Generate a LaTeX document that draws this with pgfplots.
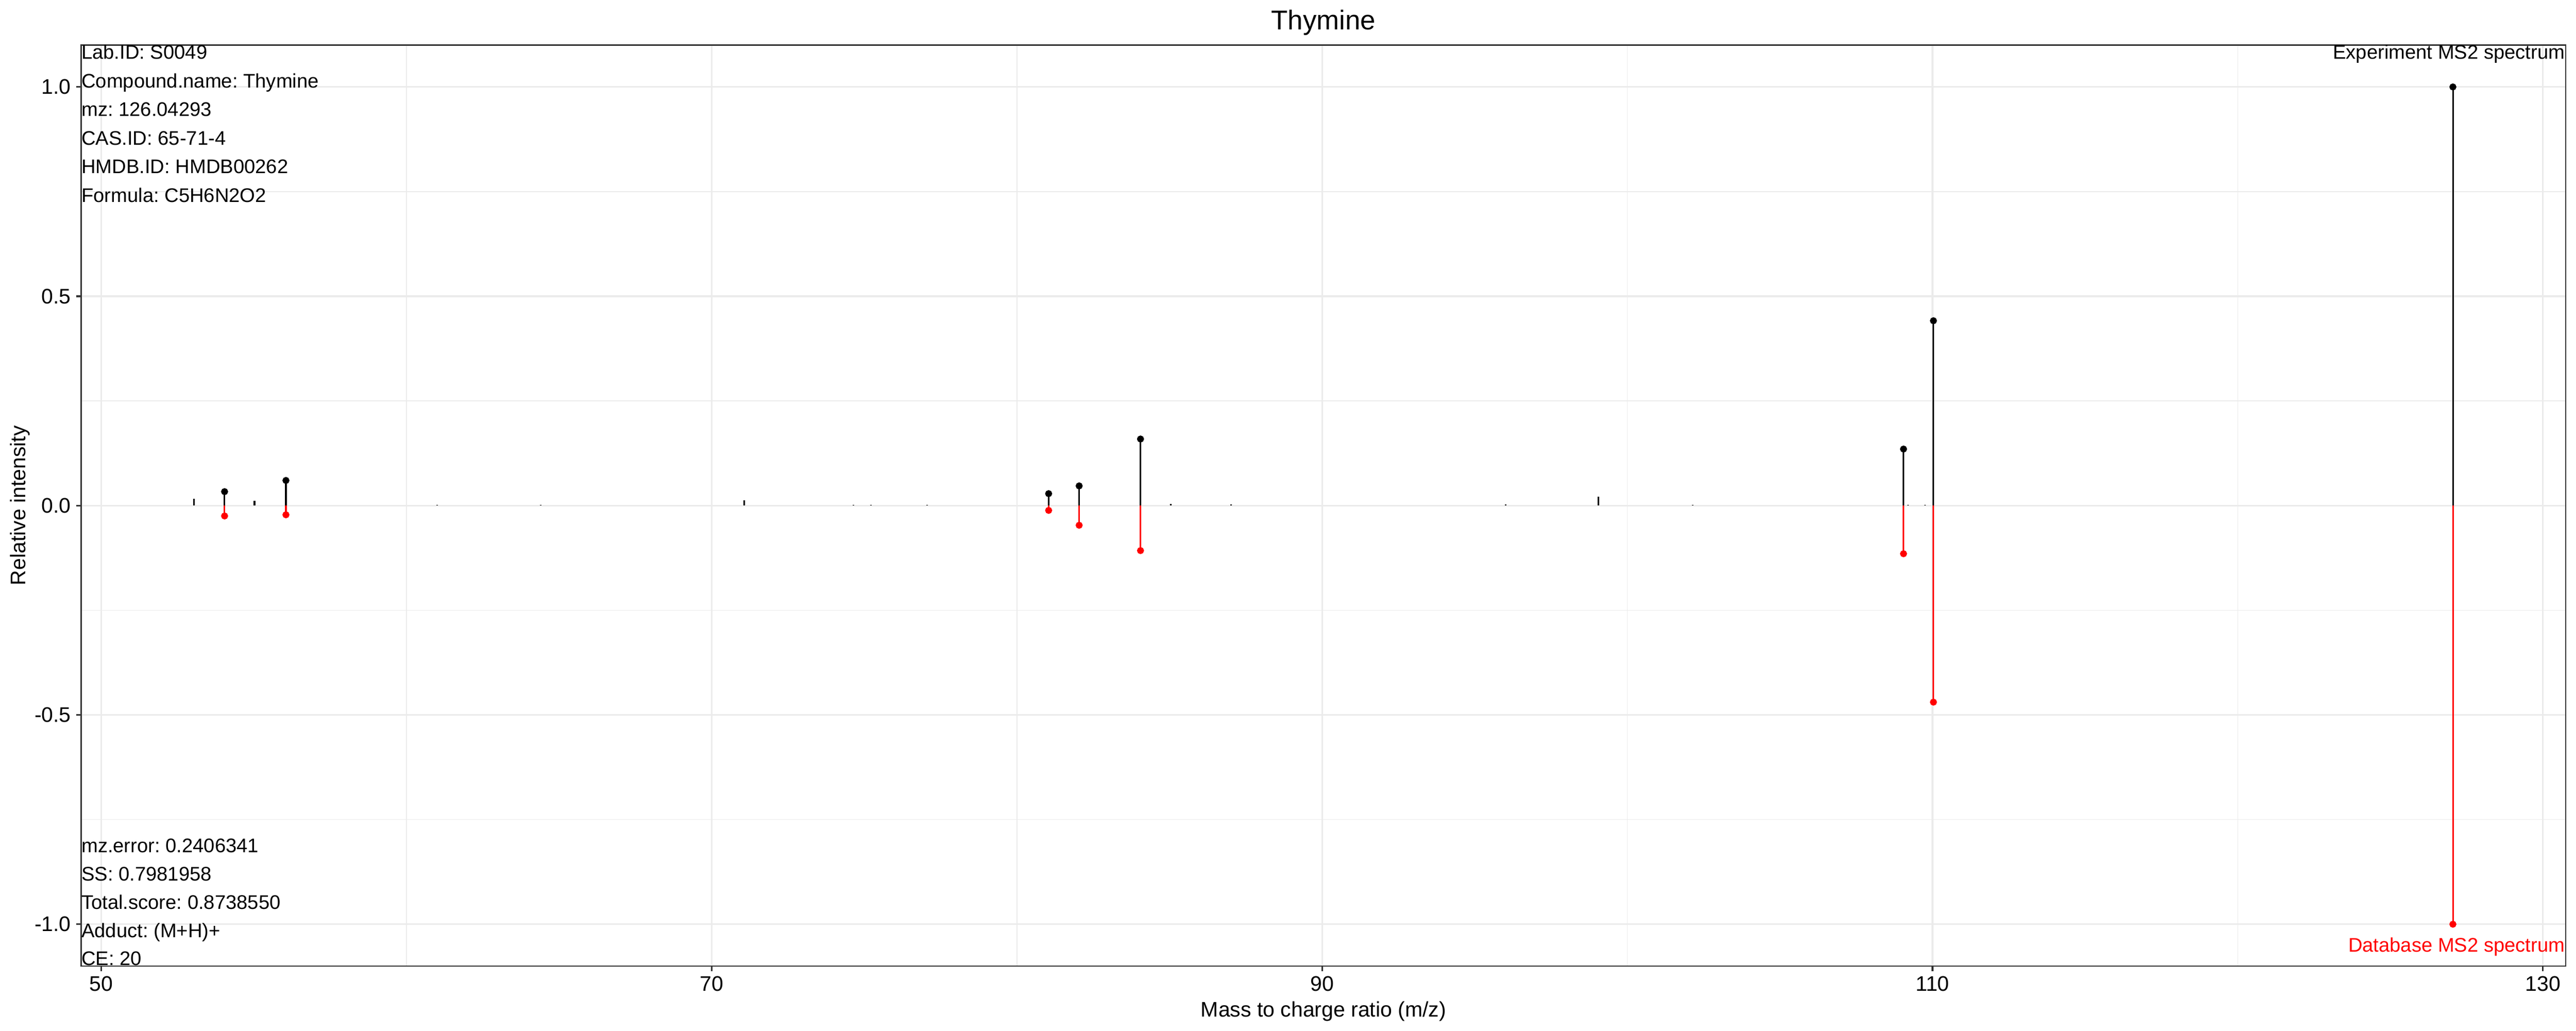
\documentclass[border=0pt]{standalone}
\usepackage{pgfplots}
\pgfplotsset{compat=1.18}
\usepackage{fontspec}
\setmainfont{Liberation Sans}
\frenchspacing
\usetikzlibrary{backgrounds}
\definecolor{gridgray}{HTML}{EBEBEB}
\definecolor{framegray}{HTML}{333333}
\definecolor{dbred}{HTML}{FF0000}
\begin{document}
\begin{tikzpicture}
\begin{axis}[
  scale only axis,
  width=1388.9pt, height=514.8pt,
  xmin=49.34, xmax=130.75,
  ymin=-1.1, ymax=1.1,
  xtick={50,70,90,110,130},
  xticklabels={50,70,90,110,130},
  minor xtick={60,80,100,120},
  ytick={-1,-0.5,0,0.5,1},
  yticklabels={-1.0,-0.5,0.0,0.5,1.0},
  minor ytick={-0.75,-0.25,0.25,0.75},
  grid=both,
  major grid style={gridgray, line width=0.9pt},
  minor grid style={gridgray, line width=0.45pt},
  xtick pos=bottom, ytick pos=left,
  tick align=outside,
  major tick length=2.75pt,
  minor tick length=0pt,
  every tick/.style={framegray, line width=0.9pt},
  axis line style={framegray, line width=0.7pt},
  /pgf/number format/assume math mode=true,
  ticklabel style={font=\fontsize{11.8}{14}\selectfont, inner sep=0pt},
  xticklabel style={anchor=north, yshift=-2.75pt},
  yticklabel style={anchor=east, xshift=-2.77pt},
  xlabel={Mass to charge ratio (m/z)},
  ylabel={Relative intensity},
  xlabel style={at={(axis description cs:0.5,-0.05487)}, anchor=base, inner sep=0pt, font=\fontsize{11.8}{14}\selectfont},
  ylabel style={at={(axis description cs:-0.02229,0.5)}, anchor=base, inner sep=0pt, font=\fontsize{11.8}{14}\selectfont},
  title={Thymine},
  every axis title/.style={at={(axis description cs:0.5,1.01665)}, anchor=base, inner sep=0pt, font=\fontsize{15.2}{18}\selectfont},
]
% unmatched experimental peaks
\addplot[ycomb, black, line width=0.9pt, mark=none] coordinates {
  (53.04,0.016) (55.02,0.0108) (61.01,0.002) (64.40,0.002)
  (71.06,0.0128) (74.64,0.002) (75.22,0.002) (77.06,0.002)
  (85.04,0.0035) (87.02,0.003) (96.01,0.0025) (99.05,0.021)
  (102.14,0.0015) (109.20,0.002) (109.76,0.002)
};
% database spectrum (matched, mirrored)
\addplot[ycomb, dbred, line width=0.9pt, mark=*, mark size=1.5pt, mark options={fill=dbred, draw=dbred, line width=0.9pt}] coordinates {
  (54.04,-0.0248) (56.05,-0.022) (81.04,-0.0115) (82.04,-0.047)
  (84.05,-0.1075) (109.05,-0.115) (110.03,-0.4695) (127.05,-1.0)
};
% experiment spectrum (matched)
\addplot[ycomb, black, line width=0.9pt, mark=*, mark size=1.5pt, mark options={fill=black, draw=black, line width=0.9pt}] coordinates {
  (54.04,0.0333) (56.05,0.060) (81.04,0.0285) (82.04,0.047)
  (84.05,0.159) (109.05,0.135) (110.03,0.4415) (127.05,1.0)
};
\coordinate (SW) at (rel axis cs:0,0);
\begin{scope}[every node/.style={inner sep=0pt, font=\fontsize{11}{13}\selectfont}]
\node[anchor=base west] at (axis cs:49.34,1.0667) {Lab.ID: S0049};
\node[anchor=base west] at (axis cs:49.34,0.9983) {Compound.name: Thymine};
\node[anchor=base west] at (axis cs:49.34,0.9300) {mz: 126.04293};
\node[anchor=base west] at (axis cs:49.34,0.8615) {CAS.ID: 65-71-4};
\node[anchor=base west] at (axis cs:49.34,0.7930) {HMDB.ID: HMDB00262};
\node[anchor=base west] at (axis cs:49.34,0.7248) {Formula: C5H6N2O2};
\node[anchor=base west] at (axis cs:49.34,-0.8290) {mz.error: 0.2406341};
\node[anchor=base west] at (axis cs:49.34,-0.8963) {SS: 0.7981958};
\node[anchor=base west] at (axis cs:49.34,-0.9636) {Total.score: 0.8738550};
\node[anchor=base west] at (axis cs:49.34,-1.0313) {Adduct: (M+H)+};
\node[anchor=base west] at (axis cs:49.34,-1.0977) {CE: 20};
\node[anchor=base east] at (axis cs:130.73,1.0667) {Experiment MS2 spectrum};
\node[anchor=base east, text=dbred] at (axis cs:130.73,-1.0662) {Database MS2 spectrum};
\end{scope}
\end{axis}
\begin{scope}[on background layer]
\fill[white] ([shift={(-45.36pt,-36pt)}]SW) rectangle ++(1440pt,576pt);
\end{scope}
\pgfresetboundingbox
\path[use as bounding box] ([shift={(-45.36pt,-36pt)}]SW) rectangle ++(1440pt,576pt);
\end{tikzpicture}
\end{document}
